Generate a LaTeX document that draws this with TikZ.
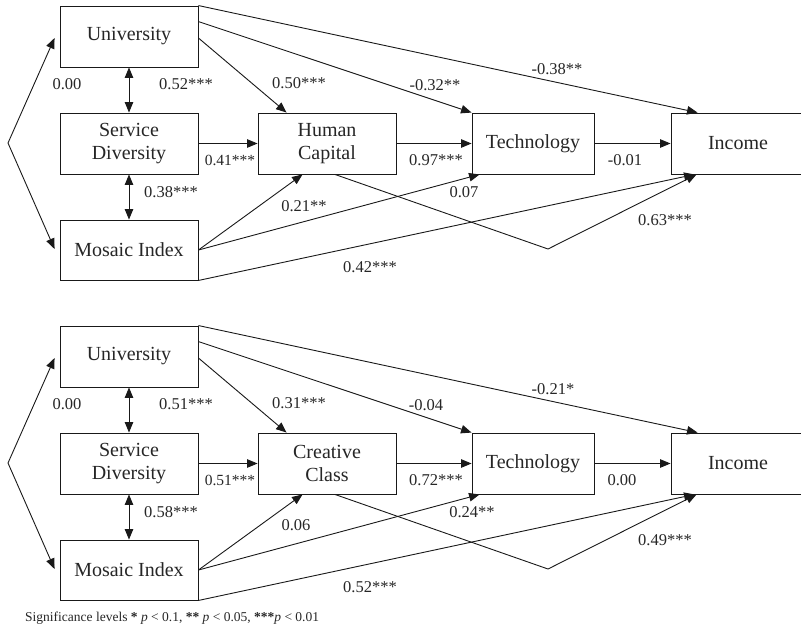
\documentclass[tikz,border=0pt]{standalone}
\usepackage{fontspec}
\setmainfont{Liberation Serif}
\usetikzlibrary{arrows.meta,calc}
\begin{document}
\begin{tikzpicture}[x=1pt,y=-1pt,
  every node/.style={text=black!85},
  box/.style={draw=black!90, line width=0.9pt, minimum height=61pt, inner sep=0pt,
    font=\fontsize{20}{23.6}\selectfont, align=center},
  conn/.style={draw=black!90, line width=0.9pt, -{Triangle[length=10.5pt,width=8.5pt]}},
  twoway/.style={draw=black!90, line width=0.9pt,
    {Triangle[length=10.5pt,width=8.5pt]}-{Triangle[length=10.5pt,width=8.5pt]}},
  coef/.style={font=\fontsize{16.5}{18}\selectfont, inner sep=0pt},
  coefsm/.style={font=\fontsize{15.5}{17}\selectfont, inner sep=0pt},
]
\useasboundingbox (0,0) rectangle (801,638);
\clip (0,0) rectangle (801,638);

% ---------- upper model: human capital ----------
\begin{scope}[name prefix=a-]
  \node[box, minimum width=138pt] (U) at (129,36.5) {University};
  \node[box, minimum width=138pt] (S) at (129,143.5) {Service\\Diversity};
  \node[box, minimum width=138pt, minimum height=60pt] (M) at (129,250) {Mosaic Index};
  \node[box, minimum width=138pt] (H) at (327,143.5) {Human\\Capital};
  \node[box, minimum width=122pt] (T) at (533,143.5) {Technology};
  \node[box, minimum width=134pt] (I) at (738,143.5) {Income};

  \coordinate (L) at (8,143);
  \coordinate (K) at (548,249);

  \draw[conn] (L) -- ([xshift=-5pt,yshift=-1.5pt]U.west);
  \draw[conn] (L) -- ([xshift=-5pt,yshift=1pt]M.west);
  \draw[twoway] (U.south) -- (S.north);
  \draw[twoway] (S.south) -- (M.north);
  \draw[conn] ([yshift=-1.5pt]U.east) -- ([xshift=29pt]H.north west);
  \draw[conn] ([yshift=-16pt]U.north east) -- (T.north west);
  \draw[conn] (U.north east) -- ([xshift=27pt]I.north west);
  \draw[conn] (S.east) -- (H.west);
  \draw[conn] (H.east) -- (T.west);
  \draw[conn] (T.east) -- (I.west);
  \draw[conn] (M.east) -- ([xshift=45pt]H.south west);
  \draw[conn] (M.east) -- ([xshift=8pt]T.south west);
  \draw[conn] (M.south east) -- ([xshift=24pt]I.south west);
  \draw[conn] ([xshift=8pt]H.south) -- (K) -- ([xshift=26pt]I.south west);

  \node[coef] (c1) at (67,84) {0.00};
  \node[coef] (c2) at (186,84) {0.52***};
  \node[coef] (c3) at (299,83) {0.50***};
  \node[coef] (c4) at (435,85) {-0.32**};
  \node[coef] (c5) at (557,69) {-0.38**};
  \node[coefsm] (c6) at (230,160) {0.41***};
  \node[coef] (c7) at (436,160) {0.97***};
  \node[coef] (c8) at (625,160) {-0.01};
  \node[coef] (c9) at (171,192) {0.38***};
  \node[coef] (c10) at (304,206) {0.21**};
  \node[coef] (c11) at (464,192) {0.07};
  \node[coef] (c12) at (665,220) {0.63***};
  \node[coef] (c13) at (370,267) {0.42***};
\end{scope}

% ---------- lower model: creative class ----------
\begin{scope}[name prefix=b-, yshift=-320pt]
  \node[box, minimum width=138pt] (U) at (129,36.5) {University};
  \node[box, minimum width=138pt] (S) at (129,143.5) {Service\\Diversity};
  \node[box, minimum width=138pt, minimum height=60pt] (M) at (129,250) {Mosaic Index};
  \node[box, minimum width=138pt] (H) at (327,143.5) {Creative\\Class};
  \node[box, minimum width=122pt] (T) at (533,143.5) {Technology};
  \node[box, minimum width=134pt] (I) at (738,143.5) {Income};

  \coordinate (L) at (8,143);
  \coordinate (K) at (548,249);

  \draw[conn] (L) -- ([xshift=-5pt,yshift=-1.5pt]U.west);
  \draw[conn] (L) -- ([xshift=-5pt,yshift=1pt]M.west);
  \draw[twoway] (U.south) -- (S.north);
  \draw[twoway] (S.south) -- (M.north);
  \draw[conn] ([yshift=-1.5pt]U.east) -- ([xshift=29pt]H.north west);
  \draw[conn] ([yshift=-16pt]U.north east) -- (T.north west);
  \draw[conn] (U.north east) -- ([xshift=27pt]I.north west);
  \draw[conn] (S.east) -- (H.west);
  \draw[conn] (H.east) -- (T.west);
  \draw[conn] (T.east) -- (I.west);
  \draw[conn] (M.east) -- ([xshift=45pt]H.south west);
  \draw[conn] (M.east) -- ([xshift=8pt]T.south west);
  \draw[conn] (M.south east) -- ([xshift=24pt]I.south west);
  \draw[conn] ([xshift=8pt]H.south) -- (K) -- ([xshift=26pt]I.south west);

  \node[coef] (c1) at (67,84) {0.00};
  \node[coef] (c2) at (186,84) {0.51***};
  \node[coef] (c3) at (299,83) {0.31***};
  \node[coef] (c4) at (426,85) {-0.04};
  \node[coef] (c5) at (553,69) {-0.21*};
  \node[coefsm] (c6) at (230,160) {0.51***};
  \node[coef] (c7) at (436,160) {0.72***};
  \node[coef] (c8) at (622,160) {0.00};
  \node[coef] (c9) at (171,192) {0.58***};
  \node[coef] (c10) at (296,205) {0.06};
  \node[coef] (c11) at (472,192) {0.24**};
  \node[coef] (c12) at (665,220) {0.49***};
  \node[coef] (c13) at (370,267) {0.52***};
\end{scope}

\node[anchor=west, inner sep=0pt, font=\fontsize{13.5}{15}\selectfont] (note) at (25,618)
  {Significance levels \textbf{*} \textit{p} < 0.1, \textbf{**} \textit{p} < 0.05, \textbf{***}\textit{p} < 0.01};
\end{tikzpicture}
\end{document}
